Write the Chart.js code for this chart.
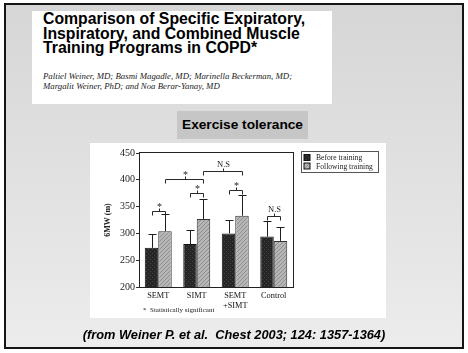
<!DOCTYPE html>
<html>
<head>
<meta charset="utf-8">
<script src="https://cdn.jsdelivr.net/npm/chart.js@4"></script>
<style>
    body { margin: 0; width: 468px; height: 353px; background: #fff; position: relative; overflow: hidden; }
    #frame {
        position: absolute; left: 4px; top: 3px; width: 460px; height: 346px; box-sizing: border-box;
        border: 2px solid #151515; background: linear-gradient(to bottom, #d6d6d6, #ececec);
    }
    #titleBox { position: absolute; left: 32px; top: 11px; width: 300px; height: 93px; background: #fff; }
    #title {
        position: absolute; left: 11px; top: 1px; font: bold 15.8px "Liberation Sans", Arial, sans-serif;
        line-height: 14.6px; color: #000; white-space: nowrap;
    }
    #authors {
        position: absolute; left: 11px; top: 60px; font: italic 8.8px "Liberation Serif", serif;
        line-height: 10px; color: #222; white-space: nowrap;
    }
    #subBox {
        position: absolute; left: 177px; top: 111px; width: 131px; height: 28px; background: #c6c6c6;
        font: bold 13.7px "Liberation Sans", Arial, sans-serif; color: #000; text-align: center; line-height: 28px;
    }
    #chartBox { position: absolute; left: 90px; top: 143px; width: 296px; height: 175px; background: #fff; }
    #note {
        position: absolute; left: 143px; top: 306px; font: 7px "Liberation Serif", serif; color: #222; white-space: nowrap;
    }
    #source {
        position: absolute; left: 0; width: 468px; top: 327px; text-align: center;
        font: italic bold 12.8px "Liberation Sans", Arial, sans-serif; color: #000;
    }
</style>
</head>
<body>
<div id="frame"></div>
<div id="titleBox">
    <div id="title">Comparison of Specific Expiratory,<br>Inspiratory, and Combined Muscle<br>Training Programs in COPD*</div>
    <div id="authors">Paltiel Weiner, MD; Basmi Magadle, MD; Marinella Beckerman, MD;<br>Margalit Weiner, PhD; and Noa Berar-Yanay, MD</div>
</div>
<div id="subBox">Exercise tolerance</div>
<div id="chartBox"><canvas id="chart" width="296" height="175"></canvas></div>
<div id="note">*&nbsp; Statistically significant</div>
<div id="source">(from Weiner P. et al.&nbsp; Chest 2003; 124: 1357-1364)</div>

<script>
const categories = ["SEMT", "SIMT", ["SEMT", "+SIMT"], "Control"];
const seriesNames = ["Before training", "Following training"];
const beforeValues = [273, 280, 300, 294];
const afterValues = [304, 327, 333, 286];
const beforeErrTop = [299, 307, 325, 324];
const afterErrTop = [336, 364, 372, 312];
const yMin = 200;
const yMax = 450;
const yStep = 50;

// brackets inside each group (before vs after)
const pairLevels = [342, 376, 381, 333];
const pairLabels = ["*", "*", "*", "N.S"];
// brackets between groups (after vs after)
const groupFrom = [0, 1];
const groupTo = [1, 2];
const groupLevels = [402, 416];
const groupLabels = ["*", "N.S"];

const SERIF = '"Liberation Serif", "Times New Roman", serif';

function makePattern(base, mark, kind) {
    const c = document.createElement("canvas");
    c.width = 4;
    c.height = 4;
    const g = c.getContext("2d");
    g.fillStyle = base;
    g.fillRect(0, 0, 4, 4);
    g.fillStyle = mark;
    if (kind === "dots") {
        g.fillRect(0, 0, 1, 1);
        g.fillRect(2, 2, 1, 1);
    } else {
        g.fillRect(0, 3, 1, 1);
        g.fillRect(1, 2, 1, 1);
        g.fillRect(2, 1, 1, 1);
        g.fillRect(3, 0, 1, 1);
    }
    return g.createPattern(c, "repeat");
}

const ctx = document.getElementById("chart").getContext("2d");
const beforeFill = makePattern("#262626", "#454545", "dots");
const afterFill = makePattern("#b6b6b6", "#8e8e8e", "hatch");

const errorBars = {
    id: "errorBars",
    afterDatasetsDraw(chart) {
        const c = chart.ctx;
        const y = chart.scales.y;
        const tops = [beforeErrTop, afterErrTop];
        c.save();
        c.strokeStyle = "#1e1e1e";
        c.lineWidth = 1;
        tops.forEach((arr, d) => {
            chart.getDatasetMeta(d).data.forEach((bar, i) => {
                const yt = Math.round(y.getPixelForValue(arr[i])) + 0.5;
                const x = Math.round(bar.x) + 0.5;
                c.beginPath();
                c.moveTo(x, bar.y);
                c.lineTo(x, yt);
                c.moveTo(x - 4, yt);
                c.lineTo(x + 4, yt);
                c.stroke();
            });
        });
        c.restore();
    },
};

function drawBracket(c, x1, x2, y, label) {
    const mid = Math.round((x1 + x2) / 2) + 0.5;
    c.beginPath();
    c.moveTo(x1, y + 4);
    c.lineTo(x1, y);
    c.lineTo(x2, y);
    c.lineTo(x2, y + 4);
    c.moveTo(mid, y);
    c.lineTo(mid, y - 3);
    c.stroke();
    c.font = label === "*" ? `10px ${SERIF}` : `8.5px ${SERIF}`;
    c.fillText(label, mid, label === "*" ? y - 2 : y - 5);
}

const brackets = {
    id: "brackets",
    afterDatasetsDraw(chart) {
        const c = chart.ctx;
        const y = chart.scales.y;
        const before = chart.getDatasetMeta(0).data;
        const after = chart.getDatasetMeta(1).data;
        c.save();
        c.strokeStyle = "#2a2a2a";
        c.fillStyle = "#1a1a1a";
        c.lineWidth = 1;
        c.textAlign = "center";
        c.textBaseline = "alphabetic";
        pairLevels.forEach((lvl, i) => {
            const yy = Math.round(y.getPixelForValue(lvl)) + 0.5;
            drawBracket(c, Math.round(before[i].x) + 0.5, Math.round(after[i].x) + 0.5, yy, pairLabels[i]);
        });
        groupLevels.forEach((lvl, i) => {
            const yy = Math.round(y.getPixelForValue(lvl)) + 0.5;
            drawBracket(c, Math.round(after[groupFrom[i]].x) + 0.5, Math.round(after[groupTo[i]].x) + 0.5, yy, groupLabels[i]);
        });
        c.restore();
    },
};

const frameAndLegend = {
    id: "frameAndLegend",
    afterDraw(chart) {
        const c = chart.ctx;
        const a = chart.chartArea;
        c.save();
        c.strokeStyle = "#222";
        c.lineWidth = 1;
        c.strokeRect(Math.round(a.left) + 0.5, Math.round(a.top) - 0.5, Math.round(a.right - a.left), Math.round(a.bottom - a.top) + 1);

        // legend box
        const lx = Math.round(a.right) + 8.5;
        const ly = Math.round(a.top) - 1.5;
        c.strokeStyle = "#555";
        c.strokeRect(lx, ly, 77, 21);
        c.font = `7.6px ${SERIF}`;
        c.textBaseline = "middle";
        c.fillStyle = "#1a1a1a";
        const fills = [beforeFill, afterFill];
        seriesNames.forEach((name, i) => {
            const cy = ly + 6 + i * 8.5;
            c.fillStyle = fills[i];
            c.fillRect(lx + 2.5, cy - 3, 6, 6);
            c.strokeStyle = "#111";
            c.strokeRect(lx + 2.5, cy - 3, 6, 6);
            c.fillStyle = "#1a1a1a";
            c.fillText(name, lx + 14.5, cy + 0.5);
        });
        c.restore();
    },
};

new Chart(ctx, {
    type: "bar",
    data: {
        labels: categories,
        datasets: [
            { label: seriesNames[0], data: beforeValues, backgroundColor: beforeFill, borderColor: "#111", borderWidth: 1 },
            { label: seriesNames[1], data: afterValues, backgroundColor: afterFill, borderColor: "#333", borderWidth: 1 },
        ],
    },
    options: {
        responsive: false,
        animation: false,
        events: [],
        categoryPercentage: 0.7,
        barPercentage: 1.0,
        layout: { padding: { left: 0, top: 10, right: 93, bottom: 0 } },
        plugins: {
            legend: { display: false },
            tooltip: { enabled: false },
        },
        scales: {
            x: {
                grid: { display: false, drawTicks: false },
                border: { display: false },
                ticks: { color: "#111", font: { family: SERIF, size: 8.3 }, padding: 4, maxRotation: 0, autoSkip: false },
                afterFit: (scale) => { scale.height = 31; },
            },
            y: {
                min: yMin,
                max: yMax,
                ticks: { stepSize: yStep, color: "#222", font: { family: SERIF, size: 10 }, padding: 1 },
                grid: { display: true, drawOnChartArea: false, drawTicks: true, tickLength: 3, color: "#333" },
                border: { display: false },
                title: {
                    display: true,
                    text: "6MW (m)",
                    color: "#222",
                    font: { family: SERIF, size: 8, weight: "bold" },
                    padding: { top: 13, bottom: 0 },
                },
                afterFit: (scale) => { scale.width = 49; },
            },
        },
    },
    plugins: [errorBars, brackets, frameAndLegend],
});
</script>
</body>
</html>
